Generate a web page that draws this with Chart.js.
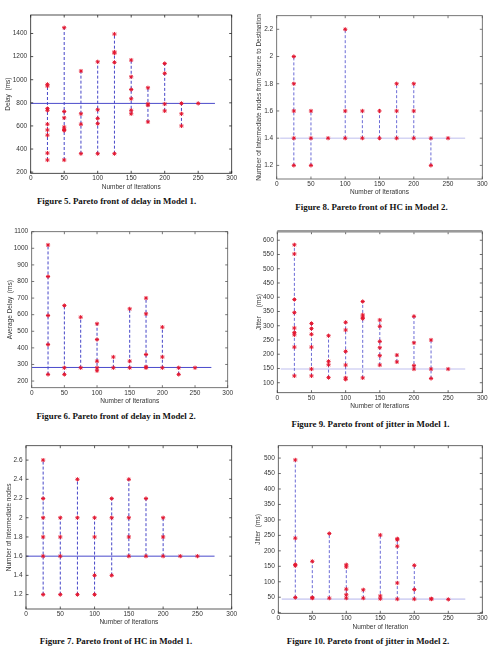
<!DOCTYPE html>
<html>
<head>
<meta charset="utf-8">
<script src="https://cdn.jsdelivr.net/npm/chart.js@4.4.1/dist/chart.umd.min.js"></script>
<style>
  body { margin: 0; width: 490px; height: 651px; background: #fff; position: relative; overflow: hidden; }
  canvas { position: absolute; }
  .cap { position: absolute; font: bold 8.9px 'Liberation Serif', 'Times New Roman', serif; color: #111; white-space: nowrap; transform: translate(-50%, -50%); }
</style>
</head>
<body>
<canvas id="fig5"></canvas>
<canvas id="fig8"></canvas>
<canvas id="fig6"></canvas>
<canvas id="fig9"></canvas>
<canvas id="fig7"></canvas>
<canvas id="fig10"></canvas>
<div class="cap" style="left:116.5px; top:201px">Figure 5. Pareto front of delay in Model 1.</div>
<div class="cap" style="left:371.5px; top:207px">Figure 8. Pareto front of HC in Model 2.</div>
<div class="cap" style="left:116px; top:416px">Figure 6. Pareto front of delay in Model 2.</div>
<div class="cap" style="left:370.5px; top:424px">Figure 9. Pareto front of jitter in Model 1.</div>
<div class="cap" style="left:116px; top:641px">Figure 7. Pareto front of HC in Model 1.</div>
<div class="cap" style="left:368px; top:641px">Figure 10. Pareto front of jitter in Model 2.</div>
<script>
// x categories shared by every panel
const iterations = [25, 50, 75, 100, 125, 150, 175, 200, 225, 250]
const xTicks = [0, 50, 100, 150, 200, 250, 300]

// Pareto front values, one list per iteration count
const delayModel1 = [
  [960, 945, 750, 735, 615, 565, 520, 365, 305],
  [1450, 725, 670, 590, 570, 560, 305],
  [1075, 705, 615, 360],
  [1155, 740, 665, 620, 360],
  [1395, 1240, 1230, 1150, 360],
  [1170, 1025, 915, 835, 735, 705],
  [930, 790, 780, 635],
  [1140, 1055, 790, 730],
  [795, 705, 600],
  [795]
]
const hcModel2 = [
  [2.0, 1.8, 1.6, 1.4, 1.2],
  [1.6, 1.4, 1.2],
  [1.4],
  [2.2, 1.6, 1.4],
  [1.6, 1.4],
  [1.6, 1.4],
  [1.8, 1.6, 1.4],
  [1.8, 1.6, 1.4],
  [1.4, 1.2],
  [1.4]
]
const delayModel2 = [
  [1020, 830, 595, 420, 240],
  [655, 280, 240],
  [585, 280],
  [545, 450, 320, 280, 262],
  [345, 280],
  [635, 320, 280],
  [700, 605, 360, 285, 280],
  [525, 345, 280],
  [280, 240],
  [280]
]
const jitterModel1 = [
  [584, 552, 392, 346, 292, 276, 268, 225, 124],
  [308, 290, 270, 225, 148, 124],
  [265, 175, 163, 118],
  [312, 285, 210, 162, 117, 112],
  [385, 338, 330, 325, 117],
  [320, 298, 245, 223, 195, 162],
  [197, 173],
  [333, 240, 160, 148],
  [250, 148, 115],
  [148]
]
const hcModel1 = [
  [2.6, 2.2, 2.0, 1.8, 1.6, 1.2],
  [2.0, 1.8, 1.6, 1.2],
  [2.4, 2.0, 1.2],
  [2.0, 1.8, 1.4, 1.2],
  [2.2, 2.0, 1.4],
  [2.4, 2.0, 1.8, 1.6],
  [2.2, 1.6],
  [2.0, 1.8, 1.6],
  [1.6],
  [1.6]
]
const jitterModel2 = [
  [494, 241, 156, 152, 49],
  [166, 49, 47],
  [256, 47],
  [155, 148, 76, 58, 47],
  [74, 47],
  [251, 54, 45],
  [239, 236, 215, 96, 44],
  [153, 75, 44],
  [45, 44],
  [43]
]

// horizontal reference level of each panel
const levelDelay1 = 795
const levelHc2 = 1.4
const levelDelay2 = 282
const levelJitter1 = 148
const levelHc1 = 1.6
const levelJitter2 = 44

// y tick labels
const yTicksDelay1 = [200, 400, 600, 800, 1000, 1200, 1400]
const yTicksHc2 = [1.2, 1.4, 1.6, 1.8, 2.0, 2.2]
const yTicksDelay2 = [200, 300, 400, 500, 600, 700, 800, 900, 1000, 1100]
const yTicksJitter1 = [100, 150, 200, 250, 300, 350, 400, 450, 500, 550, 600]
const yTicksHc1 = [1.2, 1.4, 1.6, 1.8, 2.0, 2.2, 2.4, 2.6]
const yTicksJitter2 = [0, 50, 100, 150, 200, 250, 300, 350, 400, 450, 500]

const FONT = "'Liberation Sans', Arial, sans-serif"
const X_AXIS_H = 17.4

// frame + inward tick marks on all four sides
const boxPlugin = {
  id: 'box',
  afterDraw(chart, args, opts) {
    const { ctx, chartArea: a, scales } = chart
    const len = 2.5
    ctx.save()
    ctx.strokeStyle = opts.color
    ctx.lineWidth = 0.8
    ctx.beginPath()
    scales.x.ticks.forEach(t => {
      const px = scales.x.getPixelForValue(t.value)
      ctx.moveTo(px, a.bottom); ctx.lineTo(px, a.bottom - len)
      ctx.moveTo(px, a.top); ctx.lineTo(px, a.top + len)
    })
    scales.y.ticks.forEach(t => {
      const py = scales.y.getPixelForValue(t.value)
      ctx.moveTo(a.left, py); ctx.lineTo(a.left + len, py)
      ctx.moveTo(a.right, py); ctx.lineTo(a.right - len, py)
    })
    ctx.stroke()
    ctx.strokeRect(a.left, a.top, a.right - a.left, a.bottom - a.top)
    if (opts.topBar) {
      ctx.strokeStyle = opts.topBar
      ctx.lineWidth = 2.5
      ctx.beginPath()
      ctx.moveTo(a.left, a.top - 0.5); ctx.lineTo(a.right, a.top - 0.5)
      ctx.stroke()
    }
    ctx.restore()
  }
}

function makePanel(id, cfg) {
  const { panelX, box, yMin, yMax, yTicks, values, level, yTitle, xTitle, yTitleX, faint, frame, topBar } = cfg
  const top = Math.round(box.t) - 10
  const width = Math.ceil(box.r) + 8 - panelX
  const height = Math.ceil(box.b + X_AXIS_H) - top
  const canvas = document.getElementById(id)
  canvas.width = width
  canvas.height = height
  canvas.style.left = panelX + 'px'
  canvas.style.top = top + 'px'

  const marks = []
  const spans = []
  iterations.forEach((it, i) => {
    const vals = values[i]
    vals.forEach(v => marks.push({ x: it, y: v }))
    spans.push({ x: it, y: Math.min(...vals) }, { x: it, y: Math.max(...vals) }, { x: it, y: null })
  })

  new Chart(canvas, {
    type: 'scatter',
    data: {
      datasets: [
        {
          data: marks,
          pointStyle: 'star',
          pointRadius: 2.1,
          pointBorderColor: '#e3162f',
          pointBorderWidth: 1,
          pointBackgroundColor: '#e3162f'
        },
        {
          data: spans,
          showLine: true,
          spanGaps: false,
          pointRadius: 0,
          borderColor: faint ? '#6b6bd6' : '#4646c8',
          borderWidth: 1,
          borderDash: [3, 2]
        },
        {
          data: [{ x: faint ? 5 : 0, y: level }, { x: 275, y: level }],
          showLine: true,
          pointRadius: 0,
          borderColor: faint ? '#d4d4f4' : '#4a4acb',
          borderWidth: faint ? 1.6 : 1
        }
      ]
    },
    options: {
      responsive: false,
      animation: false,
      events: [],
      layout: {
        padding: {
          left: 0,
          top: box.t - top,
          right: panelX + width - box.r,
          bottom: top + height - box.b - X_AXIS_H
        }
      },
      plugins: {
        legend: { display: false },
        tooltip: { enabled: false },
        box: { color: frame, topBar }
      },
      scales: {
        x: {
          type: 'linear',
          min: 0,
          max: 300,
          afterBuildTicks: s => { s.ticks = xTicks.map(v => ({ value: v })) },
          afterFit: s => { s.height = X_AXIS_H },
          grid: { display: false, drawTicks: false },
          border: { display: false },
          ticks: { padding: 1.5, color: '#333', font: { family: FONT, size: 6.5 }, maxRotation: 0 },
          title: { display: true, text: xTitle, color: '#333', padding: { top: 0, bottom: 0 }, font: { family: FONT, size: 6.5 } }
        },
        y: {
          type: 'linear',
          min: yMin,
          max: yMax,
          afterBuildTicks: s => { s.ticks = yTicks.map(v => ({ value: v })) },
          afterFit: s => { s.width = box.l - panelX },
          grid: { display: false, drawTicks: false },
          border: { display: false },
          ticks: {
            padding: 3.5,
            color: '#333',
            font: { family: FONT, size: 6.5 },
            callback: v => String(+v.toFixed(1))
          },
          title: { display: true, text: yTitle, color: '#333', padding: { top: yTitleX - 3.9, bottom: 0 }, font: { family: FONT, size: 6.5 } }
        }
      }
    },
    plugins: [boxPlugin]
  })
}

makePanel('fig5', {
  panelX: 0, box: { l: 30.7, t: 15, r: 231.7, b: 173.3 },
  yMin: 190, yMax: 1560, yTicks: yTicksDelay1, values: delayModel1, level: levelDelay1,
  yTitle: 'Delay  (ms)', xTitle: 'Number of Iterations', yTitleX: 8, faint: false, frame: '#222'
})
makePanel('fig8', {
  panelX: 245, box: { l: 276.7, t: 15.7, r: 482.3, b: 179 },
  yMin: 1.1, yMax: 2.3, yTicks: yTicksHc2, values: hcModel2, level: levelHc2,
  yTitle: 'Number of Intermediate nodes from Source to Destination', xTitle: 'Number of Iterations', yTitleX: 14, faint: true, frame: '#555'
})
makePanel('fig6', {
  panelX: 0, box: { l: 31.7, t: 231.7, r: 227.7, b: 387.7 },
  yMin: 160, yMax: 1100, yTicks: yTicksDelay2, values: delayModel2, level: levelDelay2,
  yTitle: 'Average Delay  (ms)', xTitle: 'Number of Iterations', yTitleX: 10, faint: false, frame: '#555'
})
makePanel('fig9', {
  panelX: 245, box: { l: 277.3, t: 231.7, r: 482.3, b: 392.7 },
  yMin: 65, yMax: 630, yTicks: yTicksJitter1, values: jitterModel1, level: levelJitter1,
  yTitle: 'Jitter     (ms)', xTitle: 'Number of Iterations', yTitleX: 14, faint: true, frame: '#444', topBar: '#9a9a9a'
})
makePanel('fig7', {
  panelX: 0, box: { l: 26, t: 445.7, r: 231.7, b: 609 },
  yMin: 1.05, yMax: 2.75, yTicks: yTicksHc1, values: hcModel1, level: levelHc1,
  yTitle: 'Number of Intermediate nodes', xTitle: 'Number of Iterations', yTitleX: 9, faint: false, frame: '#333'
})
makePanel('fig10', {
  panelX: 245, box: { l: 278.3, t: 445.7, r: 482.3, b: 613.3 },
  yMin: -2, yMax: 540, yTicks: yTicksJitter2, values: jitterModel2, level: levelJitter2,
  yTitle: 'Jitter  (ms)', xTitle: 'Number of Iteration', yTitleX: 13, faint: true, frame: '#444'
})
</script>
</body>
</html>
